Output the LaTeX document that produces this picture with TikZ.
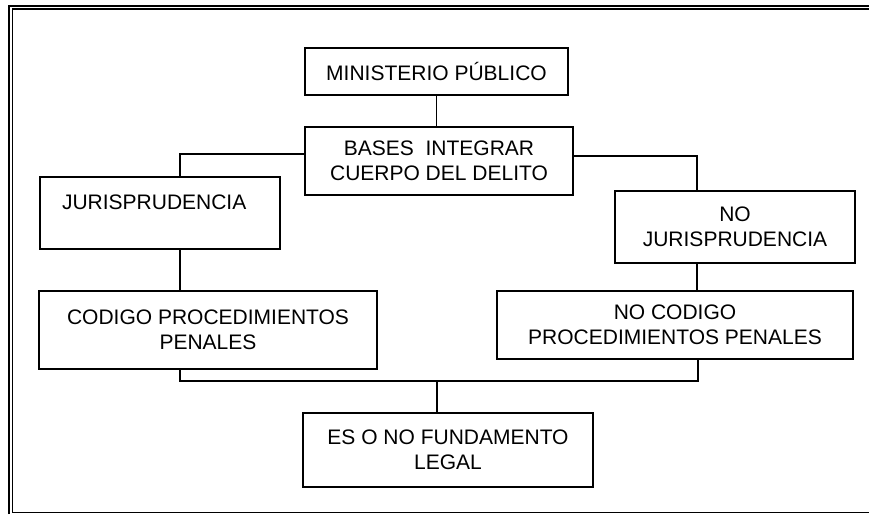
\documentclass[tikz,border=0pt]{standalone}
\usepackage{fontspec}
\setmainfont{Liberation Sans}
\usepackage{tikz}

\begin{document}
\begin{tikzpicture}[
    x=1pt, y=-1pt,
    box/.style={rectangle, draw=black, line width=1.4pt, fill=white,
                minimum height=68pt, align=center, inner sep=2pt,
                font=\fontsize{21}{25}\selectfont},
    link/.style={line width=1.4pt, color=black},
    frame/.style={color=black}
]
\useasboundingbox (0,0) rectangle (869,514);
% page frame
\draw[frame, line width=2.5pt] (9,514) -- (9,6) -- (869,6);
\draw[frame, line width=1.8pt] (12.5,512.7) -- (12.5,9.2) -- (869,9.2);
\draw[frame, line width=1.4pt] (12.5,512.7) -- (869,512.7);

\node[box, minimum width=263pt, minimum height=47pt] (mp) at (436.5,71.5) {MINISTERIO PÚBLICO};
\node[box, minimum width=268pt] (bases) at (439,161) {BASES\ \ INTEGRAR\\CUERPO DEL DELITO};
\node[box, text width=196pt, inner xsep=22pt, minimum height=72pt, align=left] (juris) at (160,213) {JURISPRUDENCIA\\[-4pt]\mbox{}};
\node[box, minimum width=338pt, minimum height=78pt] (codigo) at (208,330) {CODIGO PROCEDIMIENTOS\\PENALES};
\node[box, minimum width=240pt, minimum height=72pt] (nojuris) at (735,227) {NO\\JURISPRUDENCIA};
\node[box, minimum width=356pt] (nocodigo) at (675,325) {NO CODIGO\\PROCEDIMIENTOS PENALES};
\node[box, minimum width=290pt, minimum height=74pt] (legal) at (448,450) {ES O NO FUNDAMENTO\\LEGAL};

\draw[link] (mp.south) -- (mp.south |- bases.north);
\draw[link] ([yshift=7pt]bases.west) -| ([xshift=20pt]juris.north);
\draw[link] ([xshift=20pt]juris.south) -- ([xshift=20pt]juris.south |- codigo.north);
\draw[link] ([yshift=5pt]bases.east) -| ([xshift=-38pt]nojuris.north);
\draw[link] ([xshift=-38pt]nojuris.south) -- ([xshift=-38pt]nojuris.south |- nocodigo.north);
\coordinate (join) at (437,381);
\draw[link] ([xshift=-28pt]codigo.south) |- (join) -| ([xshift=23pt]nocodigo.south);
\draw[link] (join) -- (join |- legal.north);
\end{tikzpicture}
\end{document}
